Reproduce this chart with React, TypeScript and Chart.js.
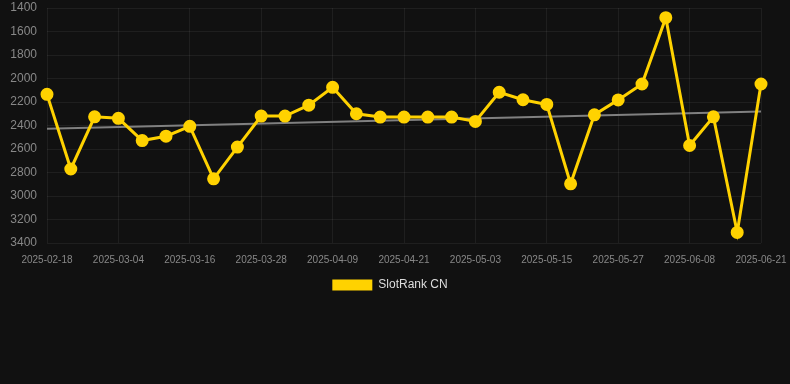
import React, { useEffect, useRef } from "react";
import { Chart, registerables } from "chart.js";

Chart.register(...registerables);

const labels = [
  "2025-02-18", "2025-02-23", "2025-02-28", "2025-03-04", "2025-03-08", "2025-03-12",
  "2025-03-16", "2025-03-20", "2025-03-24", "2025-03-28", "2025-04-01", "2025-04-05",
  "2025-04-09", "2025-04-13", "2025-04-17", "2025-04-21", "2025-04-25", "2025-04-29",
  "2025-05-03", "2025-05-07", "2025-05-11", "2025-05-15", "2025-05-19", "2025-05-23",
  "2025-05-27", "2025-05-31", "2025-06-04", "2025-06-08", "2025-06-12", "2025-06-16",
  "2025-06-21",
];

const rankCN = [
  2135, 2770, 2326, 2339, 2528, 2491, 2407, 2854, 2584, 2320, 2320, 2227,
  2075, 2300, 2328, 2328, 2328, 2328, 2365, 2117, 2181, 2221, 2896, 2309,
  2182, 2047, 1482, 2570, 2326, 3310, 2047,
];

const trendStart = 2427;
const trendEnd = 2281;
const trend = labels.map((_, i) => (i === 0 ? trendStart : i === labels.length - 1 ? trendEnd : null));

const yMin = 1400;
const yMax = 3400;
const yStep = 200;

const FONT = "Liberation Sans, Arial, sans-serif";

export default function App() {
  const ref = useRef<HTMLCanvasElement | null>(null);

  useEffect(() => {
    document.body.style.margin = "0";
    document.body.style.background = "#111111";
    const canvas = ref.current;
    if (!canvas) return;
    const chart = new Chart(canvas, {
      type: "line",
      data: {
        labels,
        datasets: [
          {
            label: "SlotRank CN",
            data: rankCN,
            borderColor: "#FFD200",
            backgroundColor: "#FFD200",
            borderWidth: 3,
            pointRadius: 5,
            pointHoverRadius: 5,
            pointBackgroundColor: "#FFD200",
            pointBorderColor: "#FFD200",
            tension: 0,
            order: 1,
          },
          {
            label: "trend",
            data: trend,
            borderColor: "#808080",
            backgroundColor: "#808080",
            borderWidth: 2,
            pointRadius: 0,
            spanGaps: true,
            order: 2,
          },
        ],
      },
      options: {
        animation: false,
        responsive: false,
        maintainAspectRatio: false,
        layout: { padding: { left: 0, right: 10, top: 6, bottom: 0 } },
        plugins: {
          legend: {
            position: "bottom",
            labels: {
              color: "#dddddd",
              font: { size: 12, family: FONT },
              boxWidth: 40,
              boxHeight: 11,
              padding: 5,
              generateLabels: (c) =>
                Chart.defaults.plugins.legend.labels
                  .generateLabels(c)
                  .filter((item) => item.text !== "trend")
                  .map((item) => ({ ...item, lineWidth: 0 })),
            },
          },
          tooltip: { enabled: false },
        },
        scales: {
          x: {
            grid: {
              color: (ctx) => (ctx.index % 3 === 0 ? "rgba(255,255,255,0.06)" : "transparent"),
              drawTicks: false,
            },
            border: { display: false },
            ticks: {
              color: "#888888",
              font: { size: 10, family: FONT },
              autoSkip: false,
              maxRotation: 0,
              minRotation: 0,
              padding: 11,
              callback: (_v, i) => (i % 3 === 0 ? labels[i] : ""),
            },
            afterFit: (s) => {
              s.paddingLeft = 0;
              s.paddingRight = 29;
              s.height = s.height - 3;
            },
          },
          y: {
            reverse: true,
            min: yMin,
            max: yMax,
            grid: { color: "rgba(255,255,255,0.06)", drawTicks: false },
            border: { display: false },
            ticks: {
              stepSize: yStep,
              color: "#888888",
              font: { size: 12, family: FONT },
              padding: 10,
              callback: (v) => String(v),
            },
            afterFit: (s) => {
              s.width = 47;
              s.paddingTop = 0;
              s.paddingBottom = 0;
            },
          },
        },
      },
    });
    return () => chart.destroy();
  }, []);

  return (
    <div style={{ width: 790, height: 384, background: "#111111", overflow: "hidden" }}>
      <canvas ref={ref} width={790} height={301} style={{ display: "block" }} />
    </div>
  );
}
